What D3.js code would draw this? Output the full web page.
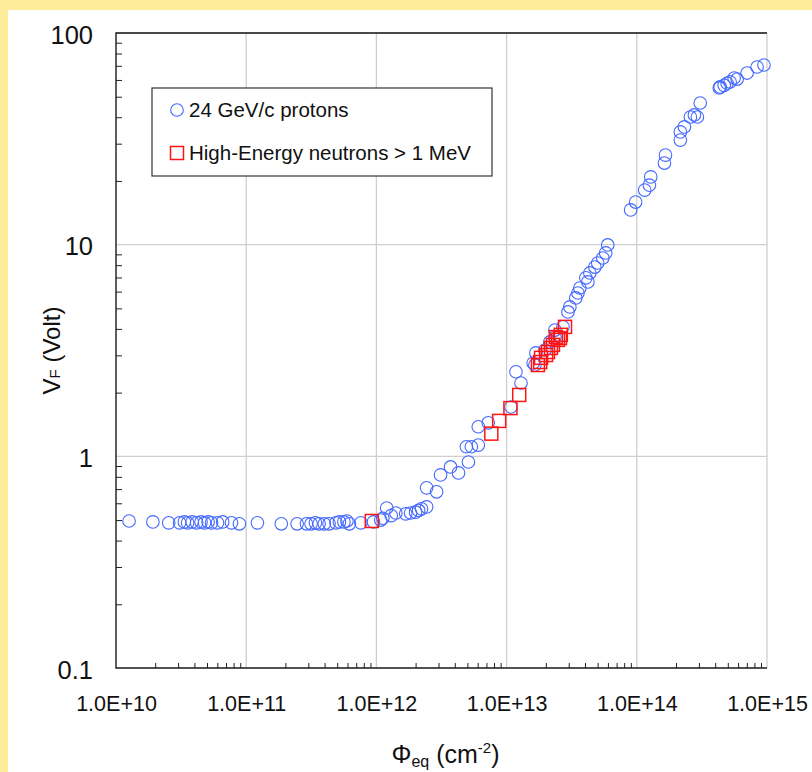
<!DOCTYPE html>
<html>
<head>
<meta charset="utf-8">
<script src="https://cdn.jsdelivr.net/npm/d3@7"></script>
<style>
  html, body { margin: 0; padding: 0; background: #ffec9a; }
  svg { display: block; }
  text { font-family: "Liberation Sans", Arial, sans-serif; fill: #111; }
</style>
</head>
<body>
<svg id="chart" width="812" height="772"></svg>
<script>
// Forward voltage vs. equivalent fluence, two irradiation sources
const protonFluence = [
  1.26e10, 1.92e10, 2.54e10, 3.08e10, 3.35e10, 3.55e10, 3.85e10, 4.16e10, 4.5e10, 4.79e10,
  5.1e10, 5.42e10, 6.02e10, 6.6e10, 7.71e10, 8.87e10, 1.22e11, 1.86e11, 2.46e11, 2.9e11,
  3.15e11, 3.4e11, 3.63e11, 3.98e11, 4.33e11, 4.89e11, 5.2e11, 5.63e11, 5.94e11, 6.2e11,
  7.6e11, 9.5e11, 1.08e12, 1.12e12, 1.2e12, 1.3e12, 1.41e12, 1.68e12, 1.83e12, 2.0e12,
  2.11e12, 2.22e12, 2.43e12, 2.43e12, 2.9e12, 3.11e12, 3.71e12, 4.27e12, 4.91e12, 5.09e12,
  5.36e12, 6.06e12, 6.06e12, 7.23e12, 1.08e13, 1.18e13, 1.29e13, 1.6e13, 1.65e13, 1.68e13,
  1.97e13, 2.15e13, 2.35e13, 2.35e13, 2.71e13, 2.96e13, 3.06e13, 3.4e13, 3.53e13, 3.65e13,
  4.06e13, 4.21e13, 4.36e13, 4.76e13, 5.01e13, 5.48e13, 5.77e13, 5.98e13, 8.97e13, 9.8e13,
  1.15e14, 1.25e14, 1.28e14, 1.63e14, 1.66e14, 2.16e14, 2.16e14, 2.32e14, 2.58e14, 2.77e14,
  2.92e14, 3.07e14, 4.3e14, 4.37e14, 4.69e14, 4.94e14, 5.21e14, 5.59e14, 5.9e14, 7.03e14,
  8.39e14, 9.48e14
];
const protonVoltage = [
  0.495, 0.49, 0.485, 0.485, 0.49, 0.485, 0.49, 0.485, 0.49, 0.485,
  0.49, 0.485, 0.485, 0.49, 0.485, 0.48, 0.485, 0.48, 0.48, 0.48,
  0.48, 0.485, 0.48, 0.48, 0.48, 0.485, 0.49, 0.49, 0.495, 0.48,
  0.485, 0.49, 0.50, 0.51, 0.57, 0.525, 0.54, 0.535, 0.54, 0.545,
  0.555, 0.565, 0.577, 0.71, 0.68, 0.817, 0.891, 0.835, 1.11, 0.94,
  1.11, 1.13, 1.38, 1.44, 1.71, 2.51, 2.22, 2.76, 2.70, 3.08,
  3.18, 3.47, 3.66, 3.95, 4.09, 4.81, 5.08, 5.60, 5.91, 6.24,
  6.97, 6.67, 7.35, 7.84, 8.19, 8.65, 9.14, 9.97, 14.6, 15.9,
  18.1, 19.1, 20.9, 24.3, 26.5, 31.2, 34.1, 36.0, 40.1, 41.0,
  40.1, 46.7, 55.0, 55.6, 56.6, 57.9, 58.7, 61.3, 60.6, 64.7,
  69.1, 70.6
];
const neutronFluence = [
  9.22e11, 7.63e12, 8.77e12, 1.07e13, 1.25e13, 1.74e13, 1.81e13, 1.84e13, 2.01e13,
  2.08e13, 2.19e13, 2.27e13, 2.39e13, 2.48e13, 2.57e13, 2.61e13, 2.81e13
];
const neutronVoltage = [
  0.495, 1.28, 1.47, 1.69, 1.95, 2.70, 2.79, 2.92, 3.01,
  3.11, 3.25, 3.36, 3.66, 3.55, 3.62, 3.75, 4.09
];

const xTickValues = [1e10, 1e11, 1e12, 1e13, 1e14, 1e15];
const xTickLabels = ["1.0E+10", "1.0E+11", "1.0E+12", "1.0E+13", "1.0E+14", "1.0E+15"];
const yTickValues = [0.1, 1, 10, 100];
const yTickLabels = ["0.1", "1", "10", "100"];
const seriesNames = ["24 GeV/c protons", "High-Energy neutrons > 1 MeV"];

const blue = "#4468ff";
const red = "#ff1414";

const svg = d3.select("#chart");

// white sheet on the yellow page
svg.append("rect").attr("x", 8).attr("y", 10).attr("width", 804).attr("height", 762).attr("fill", "#ffffff");

const plotLeft = 116, plotRight = 767, plotTop = 33, plotBottom = 668;
const x = d3.scaleLog().domain([1e10, 1e15]).range([plotLeft, plotRight]);
const y = d3.scaleLog().domain([0.1, 100]).range([plotBottom, plotTop]);

// minor tick positions: 2..9 within each decade
const minorX = [];
xTickValues.slice(0, -1).forEach(d => { for (let m = 2; m <= 9; m++) minorX.push(m * d); });
const minorY = [];
yTickValues.slice(0, -1).forEach(d => { for (let m = 2; m <= 9; m++) minorY.push(m * d); });

// grid lines at decades
const grid = svg.append("g").attr("stroke", "#cfcfcf").attr("stroke-width", 1.3);
grid.selectAll("line.gx").data(xTickValues.slice(1)).join("line")
  .attr("x1", d => x(d)).attr("x2", d => x(d)).attr("y1", plotTop).attr("y2", plotBottom);
grid.selectAll("line.gy").data(yTickValues.slice(1)).join("line")
  .attr("x1", plotLeft).attr("x2", plotRight).attr("y1", d => y(d)).attr("y2", d => y(d));

// minor ticks drawn inward by the axis generators
const xMinorAxis = d3.axisTop(x).tickValues(minorX).tickSize(5).tickFormat("");
svg.append("g").attr("transform", `translate(0,${plotBottom})`).call(xMinorAxis)
  .call(g => g.select(".domain").remove())
  .call(g => g.selectAll(".tick line").attr("stroke", "#222"));
const yMinorAxis = d3.axisRight(y).tickValues(minorY).tickSize(6).tickFormat("");
svg.append("g").attr("transform", `translate(${plotLeft},0)`).call(yMinorAxis)
  .call(g => g.select(".domain").remove())
  .call(g => g.selectAll(".tick line").attr("stroke", "#222"));

// tick labels
const xAxis = d3.axisBottom(x).tickValues(xTickValues).tickSize(0).tickPadding(0)
  .tickFormat((d, i) => xTickLabels[i]);
svg.append("g").attr("transform", `translate(0,${plotBottom})`).call(xAxis)
  .call(g => g.select(".domain").remove())
  .call(g => g.selectAll(".tick text")
    .attr("dy", null).attr("y", 43)
    .attr("font-size", 21.5).attr("fill", "#111")
    .attr("font-family", "'Liberation Sans', Arial, sans-serif"));
const yAxis = d3.axisLeft(y).tickValues(yTickValues).tickSize(0).tickPadding(0)
  .tickFormat((d, i) => yTickLabels[i]);
svg.append("g").attr("transform", `translate(${plotLeft},0)`).call(yAxis)
  .call(g => g.select(".domain").remove())
  .call(g => g.selectAll(".tick text")
    .attr("x", -23).attr("dy", "0.4em")
    .attr("font-size", 25.5).attr("fill", "#111")
    .attr("font-family", "'Liberation Sans', Arial, sans-serif"));

// frame: dark on left, top and bottom
svg.append("path")
  .attr("d", `M${plotRight},${plotTop}H${plotLeft}V${plotBottom}H${plotRight}`)
  .attr("fill", "none").attr("stroke", "#1a1a1a").attr("stroke-width", 1.4);

// proton points
svg.append("g").selectAll("circle").data(protonFluence).join("circle")
  .attr("cx", d => x(d))
  .attr("cy", (d, i) => y(protonVoltage[i]))
  .attr("r", 6.3)
  .attr("fill", "none").attr("stroke", blue).attr("stroke-width", 1.1);

// neutron points
const sq = 13;
svg.append("g").selectAll("rect").data(neutronFluence).join("rect")
  .attr("x", d => x(d) - sq / 2)
  .attr("y", (d, i) => y(neutronVoltage[i]) - sq / 2)
  .attr("width", sq).attr("height", sq)
  .attr("fill", "none").attr("stroke", red).attr("stroke-width", 1.5);

// legend
const lg = svg.append("g");
lg.append("rect").attr("x", 152).attr("y", 88).attr("width", 340).attr("height", 88)
  .attr("fill", "#fff").attr("stroke", "#333").attr("stroke-width", 1.2);
lg.append("circle").attr("cx", 177).attr("cy", 110).attr("r", 6.3)
  .attr("fill", "none").attr("stroke", blue).attr("stroke-width", 1.1);
lg.append("rect").attr("x", 170.5).attr("y", 146.5).attr("width", sq).attr("height", sq)
  .attr("fill", "none").attr("stroke", red).attr("stroke-width", 1.5);
lg.selectAll("text").data(seriesNames).join("text")
  .attr("x", 189).attr("y", (d, i) => 117 + i * 43)
  .attr("font-size", 20.5)
  .text(d => d);

// axis titles
const yt = svg.append("text")
  .attr("transform", `translate(60,${(plotTop + plotBottom) / 2}) rotate(-90)`)
  .attr("text-anchor", "middle").attr("font-size", 24);
yt.append("tspan").text("V");
yt.append("tspan").attr("font-size", 15).attr("dy", 0).text("F");
yt.append("tspan").text(" (Volt)");

const xt = svg.append("text")
  .attr("x", (plotLeft + plotRight) / 2 + 4).attr("y", 763)
  .attr("text-anchor", "middle").attr("font-size", 25);
xt.append("tspan").text("Φ");
xt.append("tspan").attr("font-size", 16).attr("dy", 4).text("eq");
xt.append("tspan").attr("dy", -4).text(" (cm");
xt.append("tspan").attr("font-size", 15).attr("dy", -10).text("-2");
xt.append("tspan").attr("dy", 10).text(")");
</script>
</body>
</html>
